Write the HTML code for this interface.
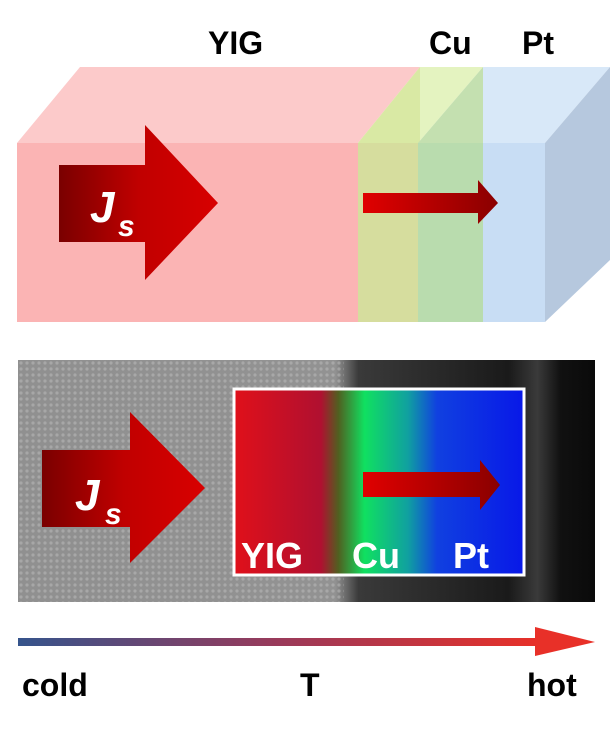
<!DOCTYPE html>
<html><head><meta charset="utf-8"><style>
body{margin:0;background:#fff;width:615px;height:733px;overflow:hidden;font-family:"Liberation Sans",Arial,sans-serif}
</style></head><body>
<svg width="615" height="733" viewBox="0 0 615 733" xmlns="http://www.w3.org/2000/svg">
<defs>
<linearGradient id="ar" x1="0" x2="1"><stop offset="0" stop-color="#7a0000"/><stop offset="0.5" stop-color="#c00000"/><stop offset="1" stop-color="#d80000"/></linearGradient>
<linearGradient id="ar2" x1="0" x2="1"><stop offset="0" stop-color="#e00000"/><stop offset="1" stop-color="#8a0000"/></linearGradient>
<linearGradient id="tg" x1="0" x2="1"><stop offset="0" stop-color="#35548c"/><stop offset="0.5" stop-color="#9a3a5a"/><stop offset="1" stop-color="#e83028"/></linearGradient>
<linearGradient id="gray" x1="0" x2="1"><stop offset="0" stop-color="#909090"/><stop offset="0.55" stop-color="#929292"/><stop offset="0.59" stop-color="#3a3a3a"/><stop offset="0.85" stop-color="#1a1a1a"/><stop offset="0.9" stop-color="#3a3a3a"/><stop offset="0.94" stop-color="#111"/><stop offset="1" stop-color="#0a0a0a"/></linearGradient>
<linearGradient id="map" x1="0" x2="1"><stop offset="0" stop-color="#e0101a"/><stop offset="0.3" stop-color="#b01030"/><stop offset="0.36" stop-color="#506020"/><stop offset="0.45" stop-color="#10e060"/><stop offset="0.6" stop-color="#10a0a0"/><stop offset="0.7" stop-color="#1040e0"/><stop offset="1" stop-color="#0818e8"/></linearGradient>
<pattern id="dots" width="6" height="6" patternUnits="userSpaceOnUse"><circle cx="3" cy="3" r="1.6" fill="#c4c4c4" opacity="0.45"/></pattern>
</defs>
<polygon points="17,143 80,67 420,67 358,143" fill="#fccaca"/>
<rect x="17" y="143" width="341" height="179" fill="#fbb4b4"/>
<polygon points="358,143 420,67 483,67 418,143" fill="#e4f3c0"/>
<polygon points="358,143 420,67 420,260 358,322" fill="#d9e9a4"/>
<rect x="358" y="143" width="60" height="179" fill="#d6dd9e"/>
<polygon points="418,143 483,67 483,260 418,322" fill="#c4e0b0"/>
<rect x="418" y="143" width="65" height="179" fill="#b9dcae"/>
<polygon points="483,67 610,67 545,143 483,143" fill="#d8e8f8"/>
<rect x="483" y="143" width="62" height="179" fill="#c8ddf4"/>
<polygon points="545,143 610,67 610,260 545,322" fill="#b6c8de"/>
<polygon points="59,165 145,165 145,125 218,203 145,280 145,242 59,242" fill="url(#ar)"/>
<text x="90" y="222" font-size="44" font-weight="bold" font-style="italic" fill="#fff">J</text>
<text x="118" y="236" font-size="30" font-weight="bold" font-style="italic" fill="#fff">s</text>
<polygon points="363,193 478,193 478,180 498,203 478,224 478,213 363,213" fill="url(#ar2)"/>
<g font-size="32" font-weight="bold" fill="#000">
<text x="208" y="54">YIG</text><text x="429" y="54">Cu</text><text x="522" y="54">Pt</text>
</g>
<rect x="18" y="360" width="577" height="242" fill="url(#gray)"/>
<rect x="18" y="360" width="326" height="242" fill="url(#dots)"/>
<rect x="234" y="389" width="290" height="186" fill="url(#map)" stroke="#fff" stroke-width="3"/>
<polygon points="42,450 130,450 130,412 205,488 130,563 130,527 42,527" fill="url(#ar)"/>
<text x="75" y="510" font-size="44" font-weight="bold" font-style="italic" fill="#fff">J</text>
<text x="105" y="524" font-size="30" font-weight="bold" font-style="italic" fill="#fff">s</text>
<polygon points="363,472 480,472 480,460 500,485 480,510 480,497 363,497" fill="url(#ar2)"/>
<g font-size="36" font-weight="bold" fill="#fff">
<text x="241" y="568">YIG</text><text x="352" y="568">Cu</text><text x="453" y="568">Pt</text>
</g>
<rect x="18" y="638" width="522" height="8" fill="url(#tg)"/>
<polygon points="535,627 595,642 535,656" fill="#e83028"/>
<g font-size="32" font-weight="bold" fill="#000">
<text x="22" y="696">cold</text><text x="300" y="696">T</text><text x="527" y="696">hot</text>
</g>
</svg>
</body></html>
